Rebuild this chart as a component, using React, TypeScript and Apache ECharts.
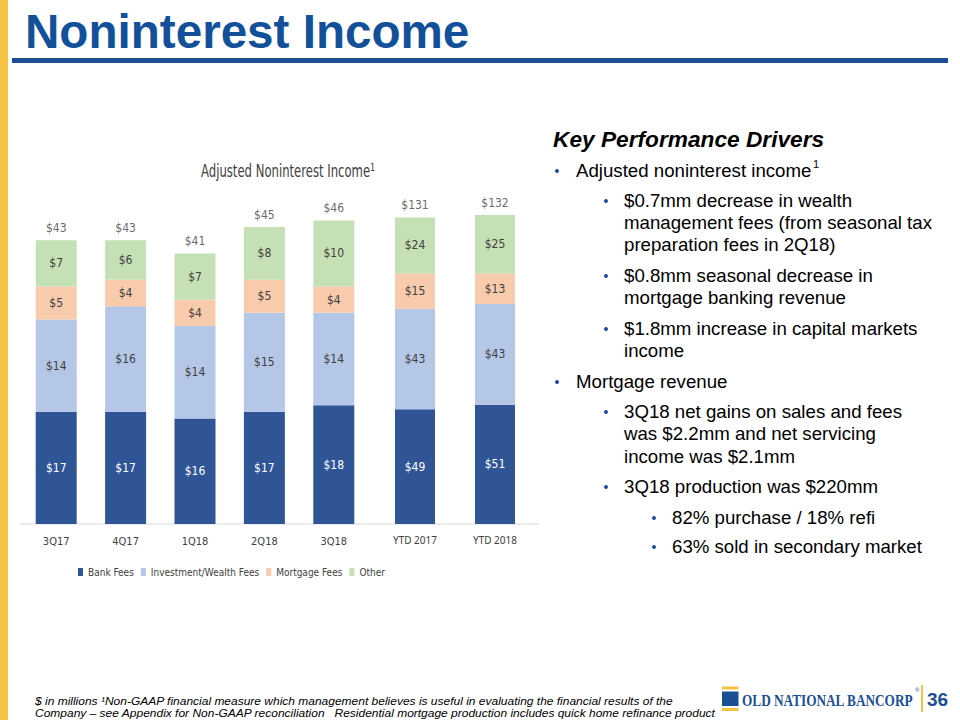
import React, { useEffect, useRef } from 'react';
import * as echarts from 'echarts';

// ---------- data ----------
const quarters = ['3Q17', '4Q17', '1Q18', '2Q18', '3Q18'];
const ytdPeriods = ['YTD 2017', 'YTD 2018'];
const seriesNames = ['Bank Fees', 'Investment/Wealth Fees', 'Mortgage Fees', 'Other'];

const bankFeesQ = [17, 17, 16, 17, 18];
const investmentQ = [14, 16, 14, 15, 14];
const mortgageQ = [5, 4, 4, 5, 4];
const otherQ = [7, 6, 7, 8, 10];
const totalQ = [43, 43, 41, 45, 46];

const bankFeesY = [49, 51];
const investmentY = [43, 43];
const mortgageY = [15, 13];
const otherY = [24, 25];
const totalY = [131, 132];

const segColors = ['#2F5597', '#B4C7E7', '#F8CBAD', '#C5E0B4'];

// ---------- text content ----------
const slideTitle = 'Noninterest Income';
const chartTitle = 'Adjusted Noninterest Income\u00B9';
const driversHeading = 'Key Performance Drivers';
const driverLines = [
  { lvl: 1, y: 177, t: 'Adjusted noninterest income', b: true, sup: '1' },
  { lvl: 2, y: 207, t: '$0.7mm decrease in wealth', b: true },
  { lvl: 2, y: 229, t: 'management fees (from seasonal tax' },
  { lvl: 2, y: 251, t: 'preparation fees in 2Q18)' },
  { lvl: 2, y: 282, t: '$0.8mm seasonal decrease in', b: true },
  { lvl: 2, y: 304, t: 'mortgage banking revenue' },
  { lvl: 2, y: 335, t: '$1.8mm increase in capital markets', b: true },
  { lvl: 2, y: 357, t: 'income' },
  { lvl: 1, y: 388, t: 'Mortgage revenue', b: true },
  { lvl: 2, y: 418, t: '3Q18 net gains on sales and fees', b: true },
  { lvl: 2, y: 440, t: 'was $2.2mm and net servicing' },
  { lvl: 2, y: 463, t: 'income was $2.1mm' },
  { lvl: 2, y: 493, t: '3Q18 production was $220mm', b: true },
  { lvl: 3, y: 524, t: '82% purchase / 18% refi', b: true },
  { lvl: 3, y: 553, t: '63% sold in secondary market', b: true },
];
const footerLines = [
  '$ in millions \u00B9Non-GAAP financial measure which management believes is useful in evaluating the financial results of the',
  'Company \u2013 see Appendix for Non-GAAP reconciliation   Residential mortgage production includes quick home refinance product',
];

const NARROW = "'DejaVu Sans Condensed', 'Liberation Sans', sans-serif";
const SANS = "'Liberation Sans', Arial, sans-serif";
const BLUE = '#12509A';
const YELLOW = '#F5C342';

export default function App() {
  const ref = useRef<HTMLDivElement>(null);

  useEffect(() => {
    document.body.style.margin = '0';
    if (!ref.current) return;
    const chart = echarts.init(ref.current, undefined, { renderer: 'svg' });

    const qData = [bankFeesQ, investmentQ, mortgageQ, otherQ];
    const yData = [bankFeesY, investmentY, mortgageY, otherY];

    const makeBars = (data: number[][], idx: number, stack: string, barWidth: number) =>
      seriesNames.map((name, i) => ({
        type: 'bar',
        name,
        stack,
        xAxisIndex: idx,
        yAxisIndex: idx,
        data: data[i],
        barWidth,
        itemStyle: { color: segColors[i] },
        label: {
          show: true,
          position: 'inside',
          formatter: '${c}',
          color: i === 0 ? '#FFFFFF' : '#404040',
          fontSize: 12,
          fontFamily: NARROW,
        },
      }));

    const makeTotal = (data: number[], idx: number) => ({
      type: 'scatter',
      name: 'total' + idx,
      xAxisIndex: idx,
      yAxisIndex: idx,
      data,
      symbol: 'circle',
      symbolSize: 1,
      silent: true,
      itemStyle: { color: 'rgba(0,0,0,0)' },
      label: {
        show: true,
        position: 'top',
        distance: 6,
        formatter: '${c}',
        color: '#404040',
        fontSize: 12,
        fontFamily: NARROW,
      },
    });

    const bulletX: Record<number, number> = { 1: 555, 2: 604, 3: 652 };
    const textX: Record<number, number> = { 1: 576, 2: 624, 3: 672 };
    const BODY = 18.67;

    const graphics: any[] = [
      { type: 'rect', shape: { x: 0, y: 0, width: 8, height: 720 }, style: { fill: YELLOW } },
      {
        type: 'text', x: 25, y: 31.5,
        style: { text: slideTitle, fill: BLUE, fontSize: 47.6, fontWeight: 'bold', fontFamily: SANS, verticalAlign: 'middle', align: 'left' },
      },
      { type: 'rect', shape: { x: 12, y: 58, width: 936, height: 5 }, style: { fill: '#1B4F93' } },
      {
        type: 'text', x: 201, y: 171, scaleX: 0.72,
        style: { text: chartTitle, x: 0, y: 0, fill: '#404040', fontSize: 18, fontFamily: NARROW, verticalAlign: 'middle', align: 'left' },
      },
      { type: 'line', shape: { x1: 20, y1: 524, x2: 539, y2: 524 }, style: { stroke: '#D9D9D9', lineWidth: 1 } },
      {
        type: 'text', x: 553, y: 139,
        style: { text: driversHeading, fill: '#000000', fontSize: 22.7, fontWeight: 'bold', fontStyle: 'italic', fontFamily: SANS, verticalAlign: 'middle', align: 'left' },
      },
    ];

    driverLines.forEach((d) => {
      graphics.push({
        type: 'text', x: textX[d.lvl], y: d.y - 0.3465 * BODY,
        style: { text: d.t, fill: '#000000', fontSize: BODY, fontFamily: SANS, verticalAlign: 'middle', align: 'left' },
      });
      if (d.b) {
        graphics.push({ type: 'circle', shape: { cx: bulletX[d.lvl] + 2, cy: d.y - 6, r: 2 }, style: { fill: '#1F4E9A' } });
      }
      if (d.sup) {
        graphics.push({
          type: 'text', x: 813, y: d.y - 13,
          style: { text: d.sup, fill: '#000000', fontSize: 11, fontFamily: SANS, verticalAlign: 'middle', align: 'left' },
        });
      }
    });

    footerLines.forEach((t, i) => {
      graphics.push({
        type: 'text', x: 35, y: 701 + i * 12, scaleX: 1.09,
        style: { text: t, x: 0, y: 0, fill: '#000000', fontSize: 11, fontStyle: 'italic', fontFamily: SANS, verticalAlign: 'middle', align: 'left' },
      });
    });

    graphics.push(
      { type: 'rect', shape: { x: 722, y: 686.5, width: 16.5, height: 3 }, style: { fill: YELLOW } },
      { type: 'rect', shape: { x: 722, y: 691.5, width: 16.5, height: 14.5 }, style: { fill: '#1B4F93' } },
      { type: 'rect', shape: { x: 722, y: 708, width: 16.5, height: 3 }, style: { fill: YELLOW } },
      {
        type: 'text', x: 742, y: 699.5, scaleX: 0.78,
        style: { text: 'OLD NATIONAL BANCORP', x: 0, y: 0, fill: '#1B4F93', fontSize: 17, fontWeight: 'bold', fontFamily: "'Liberation Serif', 'DejaVu Serif', serif", verticalAlign: 'middle', align: 'left' },
      },
      {
        type: 'text', x: 915, y: 690,
        style: { text: '\u00AE', fill: '#1B4F93', fontSize: 6, fontFamily: SANS, verticalAlign: 'middle', align: 'left' },
      },
      { type: 'line', shape: { x1: 922, y1: 685, x2: 922, y2: 712 }, style: { stroke: YELLOW, lineWidth: 2 } },
      {
        type: 'text', x: 927, y: 699,
        style: { text: '36', fill: '#1B4F93', fontSize: 19, fontWeight: 'bold', fontFamily: SANS, verticalAlign: 'middle', align: 'left' },
      },
    );

    const option: any = {
      animation: false,
      backgroundColor: '#FFFFFF',
      legend: {
        data: seriesNames,
        left: 73,
        top: 562,
        icon: 'rect',
        itemWidth: 5,
        itemHeight: 8,
        itemGap: 7,
        textStyle: { color: '#404040', fontSize: 10, fontFamily: NARROW },
      },
      grid: [
        { left: 21.5, width: 347, top: 194, height: 330 },
        { left: 375, width: 160, top: 194, height: 330 },
      ],
      xAxis: [
        {
          type: 'category', gridIndex: 0, data: quarters,
          axisLine: { show: false }, axisTick: { show: false },
          axisLabel: { color: '#404040', fontSize: 11, fontFamily: NARROW, margin: 12 },
        },
        {
          type: 'category', gridIndex: 1, data: ytdPeriods,
          axisLine: { show: false }, axisTick: { show: false },
          axisLabel: { color: '#404040', fontSize: 10, fontFamily: "'Noto Sans', sans-serif", margin: 11 },
        },
      ],
      yAxis: [
        { type: 'value', gridIndex: 0, min: 0, max: 50, show: false, splitLine: { show: false } },
        { type: 'value', gridIndex: 1, min: 0, max: 141, show: false, splitLine: { show: false } },
      ],
      series: [
        ...makeBars(qData, 0, 'q', 41),
        ...makeBars(yData, 1, 'y', 40),
        makeTotal(totalQ, 0),
        makeTotal(totalY, 1),
      ],
      graphic: graphics,
    };

    chart.setOption(option);
    return () => chart.dispose();
  }, []);

  return <div ref={ref} style={{ width: 960, height: 720 }} />;
}
